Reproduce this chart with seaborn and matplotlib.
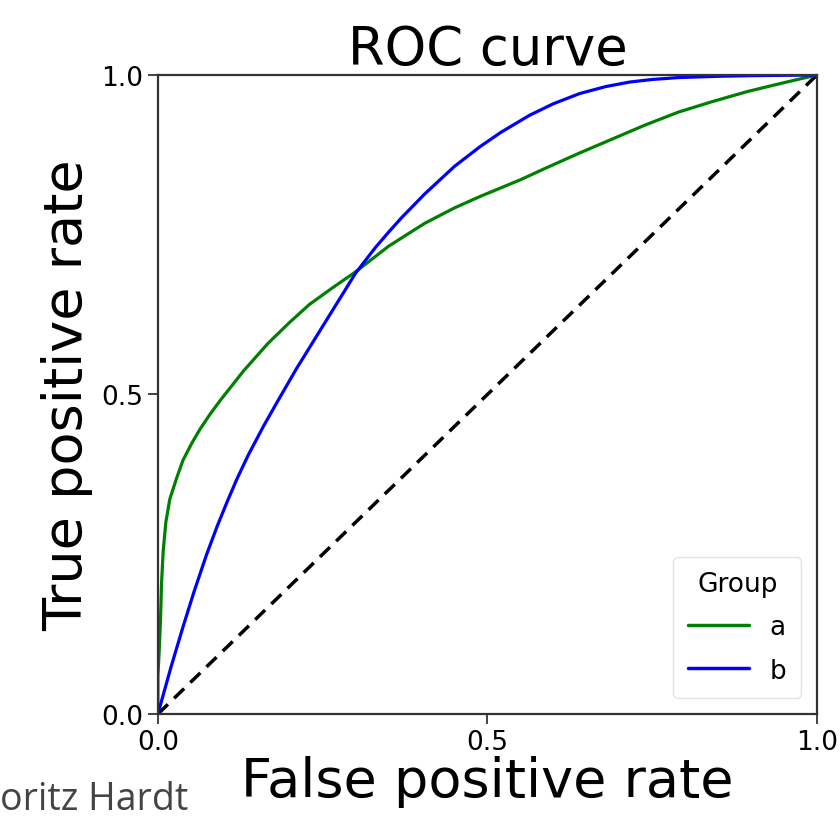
import numpy as np
import pandas as pd
import matplotlib
matplotlib.use("Agg")
import matplotlib.pyplot as plt
import seaborn as sns

# ROC points
fpr_a = [0.0, 0.0, 0.002, 0.004, 0.0056, 0.008, 0.012, 0.018, 0.028, 0.038, 0.051, 0.064,
         0.079, 0.094, 0.13, 0.167, 0.20, 0.23, 0.265, 0.30, 0.35, 0.405, 0.45, 0.489,
         0.55, 0.59, 0.64, 0.69, 0.74, 0.79, 0.84, 0.894, 0.95, 1.0]
tpr_a = [0.0, 0.06, 0.10, 0.15, 0.207, 0.255, 0.30, 0.336, 0.368, 0.397, 0.423, 0.446,
         0.469, 0.49, 0.537, 0.58, 0.613, 0.641, 0.667, 0.692, 0.732, 0.768, 0.792, 0.81,
         0.836, 0.855, 0.878, 0.90, 0.922, 0.942, 0.958, 0.974, 0.988, 1.0]
fpr_b = [0.0, 0.02, 0.038, 0.055, 0.074, 0.09, 0.105, 0.12, 0.137, 0.16, 0.182, 0.21, 0.24,
         0.27, 0.30, 0.33, 0.35, 0.37, 0.405, 0.45, 0.489, 0.52, 0.564, 0.60, 0.64, 0.68,
         0.716, 0.75, 0.79, 0.85, 0.9, 1.0]
tpr_b = [0.0, 0.074, 0.136, 0.192, 0.25, 0.294, 0.332, 0.368, 0.405, 0.45, 0.49, 0.54, 0.59,
         0.64, 0.69, 0.73, 0.754, 0.777, 0.814, 0.857, 0.888, 0.91, 0.937, 0.955, 0.971,
         0.982, 0.989, 0.993, 0.996, 0.998, 0.999, 1.0]
groups = ["a", "b"]
group_colors = ["green", "blue"]
chance = [0.0, 1.0]

df = pd.concat([
    pd.DataFrame({"fpr": fpr_a, "tpr": tpr_a, "Group": "a"}),
    pd.DataFrame({"fpr": fpr_b, "tpr": tpr_b, "Group": "b"}),
])

sns.set_style("ticks")
plt.rcParams["font.family"] = ["DejaVu Sans"]
plt.rcParams["text.color"] = "black"
plt.rcParams["axes.labelcolor"] = "black"

fig = plt.figure(figsize=(8.4, 8.28), dpi=100)
ax = fig.add_axes([0.188, 0.1365, 0.7845, 0.7717])

ax.plot(chance, chance, color="black", linestyle="--", linewidth=2.5, dashes=(4, 2.5))
sns.lineplot(data=df, x="fpr", y="tpr", hue="Group", hue_order=groups,
             palette=group_colors, linewidth=2.3, sort=False, estimator=None, ax=ax)

ax.set_xlim(0, 1)
ax.set_ylim(0, 1)
ax.set_xticks([0.0, 0.5, 1.0])
ax.set_yticks([0.0, 0.5, 1.0])
ax.set_xticklabels(["0.0", "0.5", "1.0"])
ax.set_yticklabels(["0.0", "0.5", "1.0"])
ax.tick_params(labelsize=19, length=7, width=1.2, colors="#222222", labelcolor="black")
for sp in ax.spines.values():
    sp.set_linewidth(1.6)
    sp.set_color("#333333")

ax.set_title("ROC curve", fontsize=38, pad=8)
ax.set_xlabel("False positive rate", fontsize=39, labelpad=0)
ax.set_ylabel("True positive rate", fontsize=39, labelpad=6)

leg = ax.legend(title="Group", loc="lower right", fontsize=19, title_fontsize=19,
                handlelength=2.3, borderpad=0.55, labelspacing=0.65, borderaxespad=0.6)
leg.get_frame().set_edgecolor("#dddddd")
for line in leg.get_lines():
    line.set_linewidth(2.5)

fig.text(0.0, 0.022, "oritz Hardt", ha="left", fontsize=27, color="#444444",
         family=["Open Sans", "DejaVu Sans"])

fig.savefig("out.png", dpi=100)
